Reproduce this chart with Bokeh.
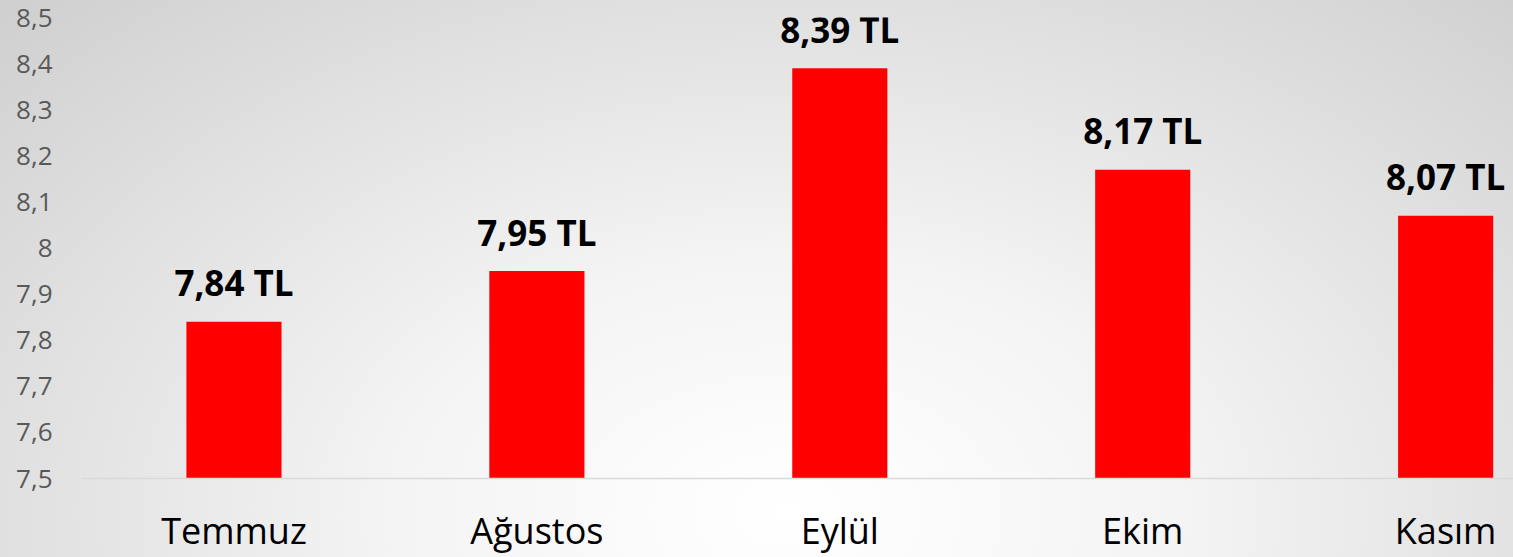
from bokeh.plotting import figure
from bokeh.models import ColumnDataSource, LabelSet, FixedTicker, CustomJSTickFormatter
from bokeh.core.properties import value
from bokeh.embed import file_html
from bokeh.resources import INLINE

months = ["Temmuz", "Ağustos", "Eylül", "Ekim", "Kasım"]
prices = [7.84, 7.95, 8.39, 8.17, 8.07]
price_labels = ["7,84 TL", "7,95 TL", "8,39 TL", "8,17 TL", "8,07 TL"]
y_ticks = [7.5, 7.6, 7.7, 7.8, 7.9, 8.0, 8.1, 8.2, 8.3, 8.4, 8.5]

xs = list(range(len(months)))
src = ColumnDataSource(dict(x=xs, top=prices, lab=price_labels))

p = figure(width=1513, height=557, output_backend="svg", toolbar_location=None,
           x_range=(-0.5, 4.224), y_range=(7.5, 8.5),
           min_border_left=82, min_border_right=0, min_border_top=17, min_border_bottom=77)

p.styles = {"background": "radial-gradient(ellipse farthest-corner at 52% 92%, #ffffff 0%, #f4f4f4 35%, #cfcfcf 100%)"}
p.background_fill_alpha = 0
p.border_fill_alpha = 0
p.outline_line_color = None
p.grid.visible = False

p.vbar(x="x", top="top", bottom=7.5, width=0.314, source=src, fill_color="#ff0000", line_color=None)

labels = LabelSet(x="x", y="top", text="lab", source=src, text_align="center", text_baseline="middle",
                  y_offset=39, text_font=value("Open Sans"), text_font_size=value("35px"),
                  text_font_style="bold", text_color="#000000")
p.add_layout(labels)

# x axis
p.xaxis.ticker = FixedTicker(ticks=xs)
p.xaxis.major_label_overrides = {i: m for i, m in enumerate(months)}
p.xaxis.axis_line_color = "#d9d9d9"
p.xaxis.axis_line_width = 1.5
p.xaxis.major_tick_line_color = None
p.xaxis.minor_tick_line_color = None
p.xaxis.major_tick_out = 0
p.xaxis.major_label_text_font = "Open Sans"
p.xaxis.major_label_text_font_size = "36px"
p.xaxis.major_label_text_color = "#000000"
p.xaxis.major_label_standoff = 27

# y axis
p.yaxis.ticker = FixedTicker(ticks=y_ticks)
p.yaxis.formatter = CustomJSTickFormatter(code="""
    var s = (Math.round(tick*10)/10).toString();
    return s.replace('.', ',');
""")
p.yaxis.axis_line_color = None
p.yaxis.major_tick_line_color = None
p.yaxis.minor_tick_line_color = None
p.yaxis.major_tick_out = 0
p.yaxis.major_label_text_font = "Open Sans"
p.yaxis.major_label_text_font_size = "26px"
p.yaxis.major_label_text_color = "#595959"
p.yaxis.major_label_standoff = 30

open("out.html", "w").write(file_html(p, INLINE))
